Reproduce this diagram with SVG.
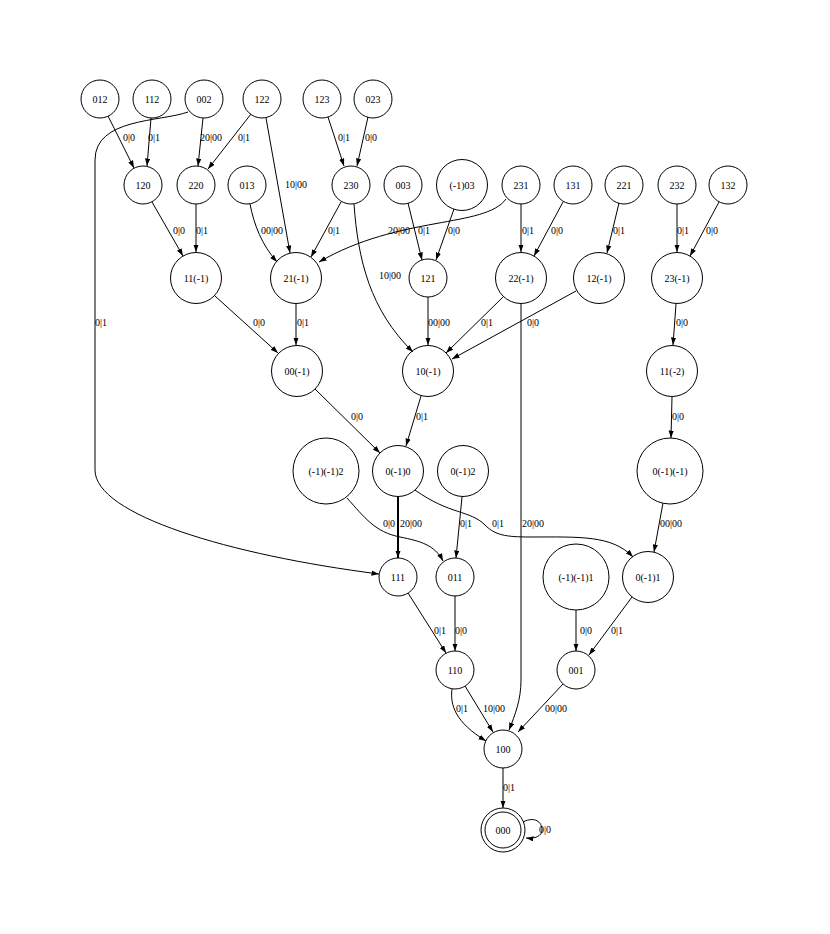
<svg xmlns="http://www.w3.org/2000/svg" width="830" height="934" viewBox="0 0 830 934">
<style>
.n circle{fill:none;stroke:#000;stroke-width:1}
text{font-family:"Liberation Serif","Times New Roman",serif;font-size:10px;fill:#000}
.n text{text-anchor:middle}
.e path{fill:none;stroke:#000;stroke-width:1;marker-end:url(#a)}
.e path.b{stroke-width:2}
</style>
<defs>
<marker id="a" viewBox="0 0 10 7" refX="10" refY="3.5" markerWidth="7.5" markerHeight="5.5" orient="auto" markerUnits="userSpaceOnUse"><path d="M0,0L10,3.5L0,7z" fill="#000"/></marker>
</defs>
<rect width="830" height="934" fill="#fff"/>
<g id="edges" class="e">
<path d="M108,116L134,168"/>
<path d="M151,118L147,166"/>
<path d="M203,118L198,166"/>
<path d="M251,114L208,169"/>
<path d="M188,112C160,122 95,118 95,160L95,470C95,515 230,555 379,574"/>
<path d="M266,118L290,253"/>
<path d="M328,117L344,166"/>
<path d="M368,117L357,166"/>
<path d="M152,202L183,256"/>
<path d="M196,204L196,252"/>
<path d="M250,204C254,225 262,245 277,262"/>
<path d="M341,202L311,257"/>
<path d="M506,199C485,228 400,215 319,262"/>
<path d="M354,204C358,260 370,310 413,352"/>
<path d="M408,203L422,260"/>
<path d="M454,209L436,260"/>
<path d="M521,204L521,252"/>
<path d="M563,202L534,256"/>
<path d="M619,203L607,253"/>
<path d="M677,204L677,252"/>
<path d="M719,202L690,256"/>
<path d="M215,296L278,353"/>
<path d="M296,303L296,345"/>
<path d="M428,297L428,345"/>
<path d="M503,297L446,353"/>
<path d="M576,291L452,359"/>
<path d="M521,304L521,680C521,700 515,715 509,730"/>
<path d="M676,304L673,345"/>
<path d="M315,389L380,453"/>
<path d="M421,396L406,446"/>
<path d="M672,397L671,438"/>
<path d="M347,498C365,518 375,532 400,537C420,541 435,545 443,561"/>
<path class="b" d="M398,497L398,558"/>
<path d="M415,490C450,515 470,510 485,525C495,535 505,537 530,537C580,537 612,535 633,557"/>
<path d="M462,497L456,558"/>
<path d="M663,503L654,552"/>
<path d="M408,593L446,653"/>
<path d="M455,596L455,651"/>
<path d="M576,610L576,651"/>
<path d="M632,597L589,655"/>
<path d="M452,689C450,705 455,722 486,741"/>
<path d="M465,686L493,732"/>
<path d="M563,684L518,732"/>
<path d="M503,768L503,808"/>
<path d="M523,822C535,816 542,822 542,830C542,836 535,839 526,838"/>
</g>
<g id="labels">
<text x="123" y="141">0|0</text>
<text x="148" y="141">0|1</text>
<text x="200" y="141">20|00</text>
<text x="238" y="141">0|1</text>
<text x="285" y="188">10|00</text>
<text x="338" y="141">0|1</text>
<text x="365" y="141">0|0</text>
<text x="173" y="234">0|0</text>
<text x="196" y="234">0|1</text>
<text x="261" y="234">00|00</text>
<text x="328" y="234">0|1</text>
<text x="388" y="234">20|00</text>
<text x="418" y="234">0|1</text>
<text x="448" y="234">0|0</text>
<text x="522" y="234">0|1</text>
<text x="551" y="234">0|0</text>
<text x="613" y="234">0|1</text>
<text x="677" y="234">0|1</text>
<text x="706" y="234">0|0</text>
<text x="95" y="326">0|1</text>
<text x="253" y="326">0|0</text>
<text x="297" y="326">0|1</text>
<text x="379" y="279">10|00</text>
<text x="428" y="326">00|00</text>
<text x="481" y="326">0|1</text>
<text x="527" y="326">0|0</text>
<text x="676" y="326">0|0</text>
<text x="351" y="420">0|0</text>
<text x="416" y="420">0|1</text>
<text x="672" y="420">0|0</text>
<text x="383" y="527">0|0</text>
<text x="400" y="527">20|00</text>
<text x="460" y="527">0|1</text>
<text x="492" y="527">0|1</text>
<text x="522" y="527">20|00</text>
<text x="660" y="527">00|00</text>
<text x="434" y="634">0|1</text>
<text x="455" y="634">0|0</text>
<text x="580" y="634">0|0</text>
<text x="611" y="634">0|1</text>
<text x="456" y="712">0|1</text>
<text x="483" y="712">10|00</text>
<text x="545" y="712">00|00</text>
<text x="503" y="791">0|1</text>
<text x="539" y="833">0|0</text>
</g>
<g id="n012" class="n"><circle cx="100" cy="99" r="19"/><text x="100" y="102.5">012</text></g>
<g id="n112" class="n"><circle cx="152" cy="99" r="19"/><text x="152" y="102.5">112</text></g>
<g id="n002" class="n"><circle cx="204" cy="99" r="19"/><text x="204" y="102.5">002</text></g>
<g id="n122" class="n"><circle cx="262" cy="99" r="19"/><text x="262" y="102.5">122</text></g>
<g id="n123" class="n"><circle cx="322" cy="99" r="19"/><text x="322" y="102.5">123</text></g>
<g id="n023" class="n"><circle cx="373" cy="99" r="19"/><text x="373" y="102.5">023</text></g>
<g id="n120" class="n"><circle cx="143" cy="185" r="19"/><text x="143" y="188.5">120</text></g>
<g id="n220" class="n"><circle cx="196" cy="185" r="19"/><text x="196" y="188.5">220</text></g>
<g id="n013" class="n"><circle cx="247" cy="185" r="19"/><text x="247" y="188.5">013</text></g>
<g id="n230" class="n"><circle cx="351" cy="185" r="19"/><text x="351" y="188.5">230</text></g>
<g id="n003" class="n"><circle cx="403" cy="185" r="19"/><text x="403" y="188.5">003</text></g>
<g id="nm103" class="n"><circle cx="462" cy="185" r="25.5"/><text x="462" y="188.5">(-1)03</text></g>
<g id="n231" class="n"><circle cx="521" cy="185" r="19"/><text x="521" y="188.5">231</text></g>
<g id="n131" class="n"><circle cx="573" cy="185" r="19"/><text x="573" y="188.5">131</text></g>
<g id="n221" class="n"><circle cx="624" cy="185" r="19"/><text x="624" y="188.5">221</text></g>
<g id="n232" class="n"><circle cx="677" cy="185" r="19"/><text x="677" y="188.5">232</text></g>
<g id="n132" class="n"><circle cx="728" cy="185" r="19"/><text x="728" y="188.5">132</text></g>
<g id="n11m1" class="n"><circle cx="196" cy="278" r="25.5"/><text x="196" y="281.5">11(-1)</text></g>
<g id="n21m1" class="n"><circle cx="296" cy="278" r="25.5"/><text x="296" y="281.5">21(-1)</text></g>
<g id="n121" class="n"><circle cx="428" cy="278" r="19"/><text x="428" y="281.5">121</text></g>
<g id="n22m1" class="n"><circle cx="521" cy="278" r="25.5"/><text x="521" y="281.5">22(-1)</text></g>
<g id="n12m1" class="n"><circle cx="599" cy="278" r="25.5"/><text x="599" y="281.5">12(-1)</text></g>
<g id="n23m1" class="n"><circle cx="677" cy="278" r="25.5"/><text x="677" y="281.5">23(-1)</text></g>
<g id="n00m1" class="n"><circle cx="297" cy="371" r="25.5"/><text x="297" y="374.5">00(-1)</text></g>
<g id="n10m1" class="n"><circle cx="428" cy="371" r="25.5"/><text x="428" y="374.5">10(-1)</text></g>
<g id="n11m2" class="n"><circle cx="672" cy="371" r="25.5"/><text x="672" y="374.5">11(-2)</text></g>
<g id="nm1m12" class="n"><circle cx="326" cy="471" r="33"/><text x="326" y="474.5">(-1)(-1)2</text></g>
<g id="n0m10" class="n"><circle cx="398" cy="471" r="25.5"/><text x="398" y="474.5">0(-1)0</text></g>
<g id="n0m12" class="n"><circle cx="463" cy="471" r="25.5"/><text x="463" y="474.5">0(-1)2</text></g>
<g id="n0m1m1" class="n"><circle cx="670" cy="471" r="33"/><text x="670" y="474.5">0(-1)(-1)</text></g>
<g id="n111" class="n"><circle cx="398" cy="577" r="19"/><text x="398" y="580.5">111</text></g>
<g id="n011" class="n"><circle cx="455" cy="577" r="19"/><text x="455" y="580.5">011</text></g>
<g id="nm1m11" class="n"><circle cx="576" cy="577" r="33"/><text x="576" y="580.5">(-1)(-1)1</text></g>
<g id="n0m11" class="n"><circle cx="648" cy="577" r="25.5"/><text x="648" y="580.5">0(-1)1</text></g>
<g id="n110" class="n"><circle cx="455" cy="670" r="19"/><text x="455" y="673.5">110</text></g>
<g id="n001" class="n"><circle cx="576" cy="670" r="19"/><text x="576" y="673.5">001</text></g>
<g id="n100" class="n"><circle cx="503" cy="749" r="19"/><text x="503" y="752.5">100</text></g>
<g id="n000" class="n"><circle cx="503" cy="830" r="22"/><circle cx="503" cy="830" r="18"/><text x="503" y="833.5">000</text></g>
</svg>
